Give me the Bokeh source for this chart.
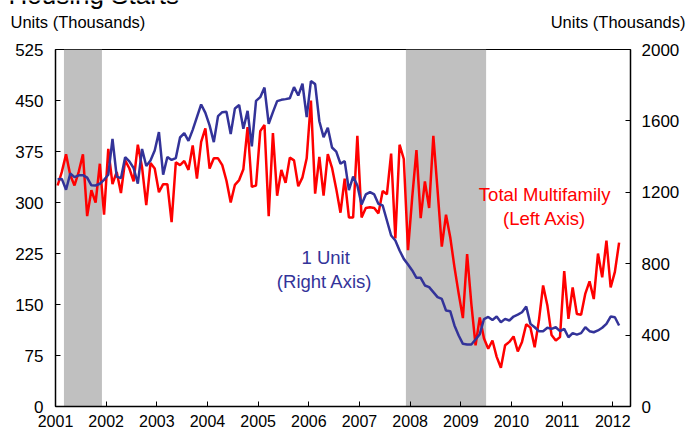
import pandas as pd
from bokeh.plotting import figure
from bokeh.layouts import column
from bokeh.models import Range1d, LinearAxis, FixedTicker, BoxAnnotation, Label, ColumnDataSource
from bokeh.embed import file_html
from bokeh.resources import INLINE

# ---- data (thousands of units, SAAR), monthly Jan 2001 .. Feb 2012 ----
months = pd.date_range("2001-01-01", periods=134, freq="MS")

multifamily = [
    325, 345, 371, 340, 325, 345, 371, 280, 318, 300, 357, 282,
    379, 327, 345, 314, 362, 350, 331, 385, 352, 296, 358, 350,
    315, 327, 327, 271, 359, 355, 361, 348, 384, 335, 389, 409,
    350, 365, 365, 355, 332, 300, 326, 333, 349, 411, 323, 325,
    405, 414, 280, 402, 310, 348, 329, 366, 362, 324, 337, 365,
    450, 313, 367, 310, 371, 351, 320, 285, 335, 278, 278, 398,
    278, 292, 293, 292, 284, 317, 312, 372, 247, 385, 364, 230,
    308, 377, 277, 331, 292, 398, 318, 235, 282, 249, 205, 166,
    130, 224, 151, 90, 131, 100, 85, 97, 73, 57, 90, 95,
    103, 81, 95, 121, 116, 87, 126, 178, 149, 105, 97, 102,
    199, 129, 175, 136, 135, 166, 184, 158, 225, 190, 244, 175,
    198, 241,
]

single_family = [
    1273, 1275, 1214, 1305, 1285, 1295, 1296, 1282, 1239, 1238, 1248, 1270,
    1298, 1499, 1288, 1279, 1397, 1373, 1336, 1249, 1443, 1347, 1378, 1434,
    1537, 1299, 1398, 1381, 1392, 1507, 1531, 1488, 1550, 1621, 1692, 1645,
    1575, 1481, 1627, 1649, 1651, 1526, 1670, 1689, 1556, 1656, 1457, 1712,
    1733, 1787, 1584, 1649, 1711, 1718, 1722, 1727, 1789, 1742, 1808, 1621,
    1823, 1806, 1598, 1509, 1561, 1451, 1428, 1360, 1375, 1212, 1288, 1238,
    1132, 1188, 1201, 1188, 1135, 1126, 1042, 958, 930, 874, 827, 796,
    762, 721, 721, 678, 669, 641, 613, 603, 538, 534, 454, 398,
    351, 347, 347, 375, 405, 490, 502, 485, 504, 472, 491, 482,
    504, 515, 528, 560, 463, 444, 422, 422, 441, 435, 444, 422,
    435, 388, 411, 403, 411, 444, 422, 416, 426, 441, 463, 504,
    500, 454,
]

left_ticks = [0, 75, 150, 225, 300, 375, 450, 525]
right_ticks = [0, 400, 800, 1200, 1600, 2000]
year_ticks = list(range(2001, 2013))
recession_start = ["2001-03-01", "2007-12-01"]
recession_end = ["2001-12-01", "2009-07-01"]

RED = "#FF0000"
BLUE = "#333399"
FONT = "Liberation Sans"

TOP_H = 36
W = 687
H = 440


def decimal_year(ts, mid=False):
    ts = pd.Timestamp(ts)
    return ts.year + (ts.month - 1 + (0.5 if mid else 0.0)) / 12.0


def no_frame_align(fig):
    try:
        fig.frame_align = False
    except Exception:
        pass


# ---------- header strip (title + unit labels) ----------
top = figure(width=W, height=TOP_H, min_border=0, x_range=Range1d(0, W), y_range=Range1d(TOP_H, 0),
             x_axis_type=None, y_axis_type=None, output_backend="svg", toolbar_location=None,
             title=None)
no_frame_align(top)
top.outline_line_color = None
top.background_fill_color = "white"
top.border_fill_color = "white"
top.add_layout(Label(x=8, y=-5.5, text="Housing Starts", text_align="left", text_baseline="middle",
                     text_color="black", text_font=FONT, text_font_size="26px"))
top.add_layout(Label(x=10, y=21, text="Units (Thousands)", text_align="left", text_baseline="middle",
                     text_color="black", text_font=FONT, text_font_size="16.5px"))
top.add_layout(Label(x=685, y=21, text="Units (Thousands)", text_align="right", text_baseline="middle",
                     text_color="black", text_font=FONT, text_font_size="16.5px"))

# ---------- main chart ----------
x = [decimal_year(m, mid=True) for m in months]
source = ColumnDataSource(dict(x=x, multi=multifamily, single=single_family))

p = figure(
    frame_width=575, frame_height=357,
    min_border_left=55, min_border_right=57, min_border_top=49 - TOP_H,
    min_border_bottom=H - 49 - 357,
    x_range=Range1d(2001, 2012.35), y_range=Range1d(0, 525),
    output_backend="svg", toolbar_location=None, title=None,
)
no_frame_align(p)
p.extra_y_ranges = {"right": Range1d(0, 2000)}
p.background_fill_color = "white"
p.border_fill_color = "white"
p.outline_line_color = "black"
p.outline_line_width = 1
p.xgrid.visible = False
p.ygrid.visible = False

right_axis = LinearAxis(y_range_name="right")
p.add_layout(right_axis, "right")

p.xaxis.ticker = FixedTicker(ticks=year_ticks)
p.yaxis[0].ticker = FixedTicker(ticks=left_ticks)
right_axis.ticker = FixedTicker(ticks=right_ticks)

for ax in [p.xaxis[0], p.yaxis[0], right_axis]:
    ax.axis_line_color = "black"
    ax.axis_line_width = 1.5
    ax.major_tick_line_color = "black"
    ax.major_tick_line_width = 1
    ax.major_tick_in = 5
    ax.major_tick_out = 0
    ax.minor_tick_line_color = None
    ax.major_label_text_color = "black"
    ax.major_label_text_font = FONT
    ax.major_label_text_font_size = "17px"

p.xaxis[0].major_label_text_font_size = "16px"
p.xaxis[0].major_label_standoff = 8
p.yaxis[0].major_label_standoff = 12
right_axis.major_label_standoff = 11

for s, e in zip(recession_start, recession_end):
    p.add_layout(BoxAnnotation(left=decimal_year(s), right=decimal_year(e),
                               fill_color="#C0C0C0", fill_alpha=1.0,
                               line_alpha=0, level="underlay"))

p.line("x", "multi", source=source, line_color=RED, line_width=2.5)
p.line("x", "single", source=source, line_color=BLUE, line_width=2.5, y_range_name="right")

labels = [
    ("Total Multifamily", 2010.655, 311.8, RED),
    ("(Left Axis)", 2010.655, 276.5, RED),
    ("1 Unit", 2006.333, 219.1, BLUE),
    ("(Right Axis)", 2006.313, 183.8, BLUE),
]
for text, lx, ly, color in labels:
    p.add_layout(Label(x=lx, y=ly, text=text, text_align="center", text_baseline="middle",
                       text_color=color, text_font=FONT, text_font_size="18.5px"))

layout = column(top, p, spacing=0)
open("out.html", "w").write(file_html(layout, INLINE))
